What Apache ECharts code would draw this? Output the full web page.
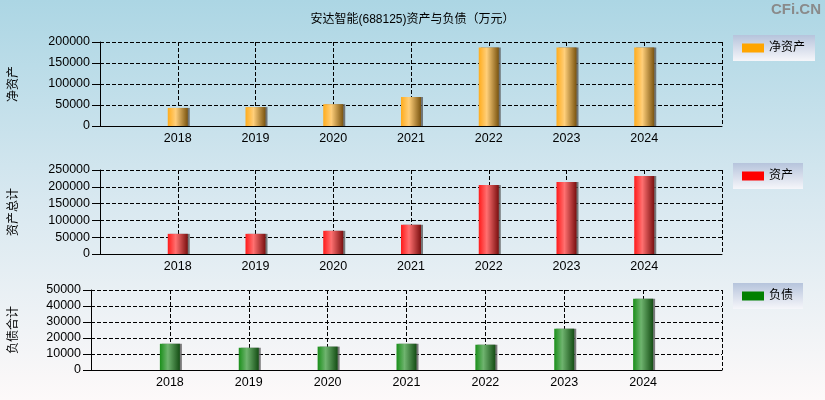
<!DOCTYPE html>
<html>
<head>
<meta charset="utf-8">
<script src="https://cdn.jsdelivr.net/npm/echarts@6/dist/echarts.min.js"></script>
<style>
html,body{margin:0;padding:0;}
#chart{width:825px;height:400px;}
</style>
</head>
<body>
<div id="chart"></div>
<script>
// 年份（两端留空位）
var years = ['', '2018', '2019', '2020', '2021', '2022', '2023', '2024', ''];
// 万元
var netAssets = [null, 43000, 45000, 52000, 69000, 187000, 187000, 187000, null];
var totalAssets = [null, 60000, 60000, 69000, 87000, 205000, 214000, 232000, null];
var totalDebts = [null, 16400, 13900, 14600, 16400, 15800, 25800, 44600, null];

var FONT = '"Liberation Sans","Noto Sans CJK SC",sans-serif';

function barGrad(c1, c2, c3) {
    return new echarts.graphic.LinearGradient(0, 0, 1, 0, [
        {offset: 0, color: c1},
        {offset: 0.4, color: c2},
        {offset: 1, color: c3}
    ]);
}
function legendBg() {
    return new echarts.graphic.LinearGradient(0, 0, 0, 1, [
        {offset: 0, color: '#b6c4dc'},
        {offset: 1, color: '#f6f6fa'}
    ]);
}

function xAxis(i) {
    return {
        type: 'category', gridIndex: i, data: years, boundaryGap: false,
        axisLine: {lineStyle: {color: '#000', width: 1}},
        axisTick: {show: false},
        axisLabel: {color: '#000', fontSize: 12.5, fontFamily: FONT, margin: 6},
        splitLine: {show: true, lineStyle: {color: '#000', type: 'dashed', width: 1}}
    };
}
function yAxis(i, name, max, step, gap) {
    return {
        type: 'value', gridIndex: i, min: 0, max: max, interval: step,
        name: name, nameLocation: 'middle', nameRotate: 90, nameGap: gap,
        nameTextStyle: {color: '#000', fontSize: 12, fontFamily: FONT},
        axisLine: {show: true, lineStyle: {color: '#000', width: 1}},
        axisTick: {show: true, length: 8, lineStyle: {color: '#000'}},
        axisLabel: {color: '#000', fontSize: 12.5, fontFamily: FONT, margin: 10,
            formatter: function (v) { return String(v); }},
        splitLine: {show: true, lineStyle: {color: '#000', type: 'dashed', width: 1}}
    };
}
function legend(name, top, color) {
    return {
        data: [{name: name, itemStyle: {color: color, shadowColor: 'transparent'}}],
        left: 733, top: top, orient: 'vertical',
        icon: 'rect', itemWidth: 22, itemHeight: 9, itemGap: 4,
        padding: [7, 10, 7, 9],
        backgroundColor: legendBg(),
        textStyle: {color: '#000', fontSize: 12, fontFamily: FONT}
    };
}
function bar(name, i, data, grad) {
    return {
        name: name, type: 'bar', xAxisIndex: i, yAxisIndex: i, data: data,
        barWidth: 20,
        itemStyle: {
            color: grad,
            shadowColor: 'rgba(90,90,90,0.8)', shadowOffsetX: 2, shadowBlur: 0
        }
    };
}

var chart = echarts.init(document.getElementById('chart'));
chart.setOption({
    animation: false,
    backgroundColor: new echarts.graphic.LinearGradient(0, 0, 0, 1, [
        {offset: 0, color: '#acd6e4'},
        {offset: 0.5, color: '#d8e8f0'},
        {offset: 1, color: '#fdf9f9'}
    ]),
    title: {
        text: '安达智能(688125)资产与负债（万元）', left: 'center', top: 9,
        textStyle: {color: '#000', fontSize: 12, fontWeight: 'normal', fontFamily: FONT}
    },
    graphic: [{
        type: 'text', right: 4, top: 2,
        style: {text: 'CFi.CN', fill: '#8a8a8a', fontSize: 15, fontWeight: 'bold', fontFamily: FONT}
    }],
    legend: [
        legend('净资产', 35, '#ffa500'),
        legend('资产', 163, '#ff0000'),
        legend('负债', 283, '#008000')
    ],
    grid: [
        {left: 98, right: 103, top: 42, height: 84},
        {left: 98, right: 103, top: 170, height: 84},
        {left: 89, right: 103, top: 290, height: 80}
    ],
    xAxis: [xAxis(0), xAxis(1), xAxis(2)],
    yAxis: [
        yAxis(0, '净资产', 200000, 50000, 80),
        yAxis(1, '资产总计', 250000, 50000, 80),
        yAxis(2, '负债合计', 50000, 10000, 71)
    ],
    series: [
        bar('净资产', 0, netAssets, barGrad('#ffac1c', '#ffcf7a', '#7a5410')),
        bar('资产', 1, totalAssets, barGrad('#ff1a1a', '#ff7070', '#7a1010')),
        bar('负债', 2, totalDebts, barGrad('#1a8f1a', '#6fb46f', '#144d14'))
    ]
});
</script>
</body>
</html>
